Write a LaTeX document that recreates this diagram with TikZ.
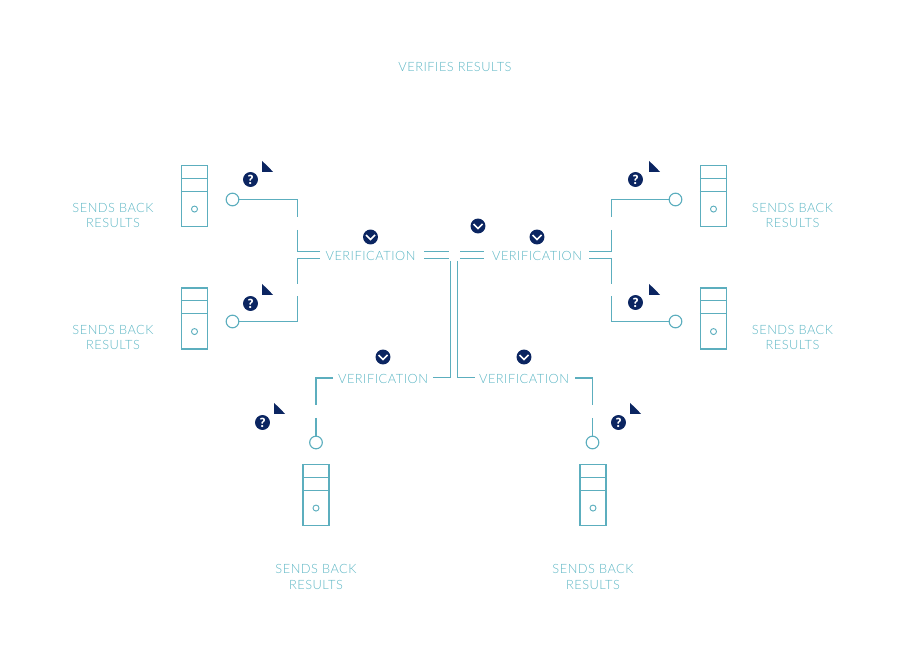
\documentclass[tikz,border=0pt]{standalone}
\usepackage{fontspec}
\setmainfont[LetterSpace=4]{Lato Light}
\newfontfamily\askfont{Lato Black}
\usetikzlibrary{calc}
\definecolor{linecol}{RGB}{92,174,190}
\definecolor{textcol}{RGB}{92,182,196}
\definecolor{navycol}{RGB}{11,37,97}
\tikzset{
  conn/.style={linecol,line width=0.85pt},
  lbl/.style={textcol,font=\fontsize{9.6}{11.4}\selectfont,align=center,inner sep=0pt},
  port/.style={circle,draw=linecol,fill=white,line width=0.85pt,minimum size=9.5pt,inner sep=0pt},
  led/.style={circle,draw=linecol,line width=0.7pt,minimum size=4.5pt,inner sep=0pt},
  tower/.style={rectangle,draw=linecol,line width=0.85pt,minimum width=19.5pt,minimum height=45.75pt,inner sep=0pt},
  badge/.style={circle,fill=navycol,minimum size=11.2pt,inner sep=0pt},
  asks/.style={badge,text=white,font=\askfont\fontsize{9.5}{9.5}\selectfont},
}
% server drawing: #1 name, #2 centre
\newcommand{\server}[2]{
  \node[tower] (#1) at (#2) {};
  \draw[conn] ($(#1.north west)+(0,13.5)$) -- ($(#1.north east)+(0,13.5)$);
  \draw[conn] ($(#1.north west)+(0,26.5)$) -- ($(#1.north east)+(0,26.5)$);
  \node[led] (#1led) at ($(#1.south)+(0,-18)$) {};
}
% question mark with the folded corner beside it
\newcommand{\query}[3]{
  \node[asks] (#1) at (#2) {?};
  \fill[navycol] ($(#3)+(0,-11)$) .. controls ($(#3)+(4,-7.5)$) and ($(#3)+(8,-3.5)$) .. ($(#3)+(11,0)$) -- (#3) -- cycle;
}
\begin{document}
\begin{tikzpicture}[x=0.75pt,y=-0.75pt]
  \useasboundingbox (0,0) rectangle (910,655);
  \node[lbl] (title) at (455,66.5) {VERIFIES RESULTS};

  % servers, ports and captions
  \foreach \name/\x/\y/\px/\py/\tx/\ty in {
     a/194.5/196/232.5/199.5/113/215.5,
     b/194.5/318.5/232.5/321.5/113/337.5,
     c/713.5/196/675.5/199.5/792.5/215.5,
     d/713.5/318.5/675.5/321.5/792.5/337.5,
     e/316/495/316/442.5/316/577,
     f/593/495/592.5/442.5/593/577}{
    \server{srv\name}{\x,\y}
    \node[port] (port\name) at (\px,\py) {};
    \node[lbl] (cap\name) at (\tx,\ty) {SENDS BACK\\RESULTS};
  }

  % verification labels
  \node[lbl] (verl) at (370.5,255.5) {VERIFICATION};
  \node[lbl] (verr) at (537,255.5) {VERIFICATION};
  \node[lbl] (verbl) at (383,379) {VERIFICATION};
  \node[lbl] (verbr) at (524,379) {VERIFICATION};

  % left pair
  \coordinate (la1) at (297.5,217);
  \coordinate (la2) at (297.5,230);
  \coordinate (la3) at (320,251.5);
  \coordinate (lb1) at (297.5,284);
  \coordinate (lb2) at (297.5,296);
  \coordinate (lb3) at (320,258.5);
  \draw[conn] (porta.east) -| (la1);
  \draw[conn] (la2) |- (la3);
  \draw[conn] (portb.east) -| (lb2);
  \draw[conn] (lb1) |- (lb3);

  % right pair
  \coordinate (ra1) at (611.5,217);
  \coordinate (ra2) at (611.5,230);
  \coordinate (ra3) at (589,251.5);
  \coordinate (rb1) at (611.5,284);
  \coordinate (rb2) at (611.5,296);
  \coordinate (rb3) at (589,258.5);
  \draw[conn] (portc.west) -| (ra1);
  \draw[conn] (ra2) |- (ra3);
  \draw[conn] (portd.west) -| (rb2);
  \draw[conn] (rb1) |- (rb3);

  % centre
  \foreach \y in {251.5,258.5}{
    \draw[conn] (424,\y) -- (449,\y);
    \draw[conn] (460,\y) -- (484,\y);
  }
  \coordinate (ml1) at (450.5,261);
  \coordinate (ml2) at (433,377.5);
  \coordinate (mr1) at (457.5,261);
  \coordinate (mr2) at (475,377.5);
  \draw[conn] (ml1) |- (ml2);
  \draw[conn] (mr1) |- (mr2);

  % bottom pair
  \coordinate (ba1) at (333,378);
  \coordinate (ba2) at (316,405);
  \coordinate (ba3) at (316,418);
  \coordinate (bb1) at (575,378);
  \coordinate (bb2) at (592.5,405);
  \coordinate (bb3) at (592.5,418);
  \draw[conn] (ba1) -| (ba2);
  \draw[conn] (ba3) -- (porte.north);
  \draw[conn] (bb1) -| (bb2);
  \draw[conn] (bb3) -- (portf.north);

  % badges
  \foreach \name/\x/\y in {okl/370.5/237,okm/478/226,okr/537/237,okbl/383/357,okbr/524/357}{
    \node[badge] (\name) at (\x,\y) {};
    \draw[white,line width=1.1pt] ($(\name)+(-4.5,-2)$) -- ($(\name)+(0,2.5)$) -- ($(\name)+(4.5,-2)$);
  }
  \query{qa}{250.5,179.5}{262,172}
  \query{qb}{250.5,303.5}{262,295}
  \query{qc}{635.5,179.5}{649,172}
  \query{qd}{635.5,302.5}{649,295}
  \query{qe}{262.5,422.5}{274,414}
  \query{qf}{618.5,422.5}{630,414}
\end{tikzpicture}
\end{document}
